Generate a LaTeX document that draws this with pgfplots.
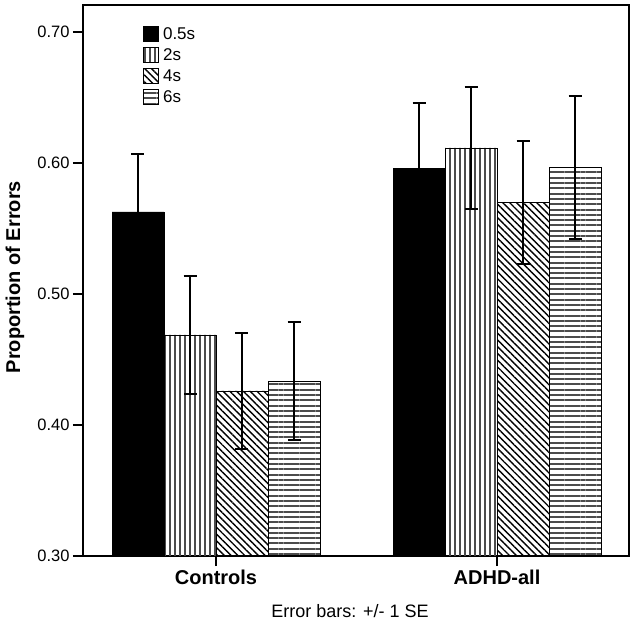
\documentclass[border=0pt]{standalone}
\usepackage{fontspec}
\setmainfont{Liberation Sans}
\usepackage{pgfplots}
\pgfplotsset{compat=1.18}
\usetikzlibrary{patterns.meta}

\begin{document}
\begin{tikzpicture}
\useasboundingbox (-83pt,-67pt) rectangle (553pt,556pt);
\begin{axis}[
  scale only axis, width=546pt, height=551pt,
  xmin=-0.4733, xmax=1.4697, ymin=0.3, ymax=0.7206,
  xtick={0,1}, xticklabels={Controls,ADHD-all},
  ytick={0.3,0.4,0.5,0.6,0.7}, yticklabels={0.30,0.40,0.50,0.60,0.70},
  tick pos=left, tick align=outside, major tick length=10pt,
  tick style={line width=1.5pt,black},
  axis line style={line width=2pt},
  xticklabel style={font=\fontsize{20}{24}\selectfont\bfseries},
  yticklabel style={font=\fontsize{16.5}{19}\selectfont},
  ylabel={\textbf{Proportion of Errors}},
  ylabel style={at={(axis description cs:-0.1245,0.506)}, anchor=center, font=\fontsize{20}{24}\selectfont},
  xlabel={Error bars: +/- 1 SE},
  xlabel style={at={(axis description cs:0.489,0)}, anchor=base, yshift=-61pt, font=\fontsize{18}{22}\selectfont},
  legend style={at={(axis description cs:0.11,0.962)}, anchor=north west, draw=none, fill=none,
     inner sep=0pt, row sep=5.2pt, font=\fontsize{17}{20}\selectfont, nodes={inner sep=1pt},
     /tikz/column 2/.style={column sep=0pt}},
  legend cell align=left,
  legend image code/.code={\draw[#1] (0pt,-7.5pt) rectangle (15pt,7.5pt);},
  error bars/error bar style={line width=2pt,black},
  error bars/error mark options={rotate=90, mark size=6.5pt, line width=2pt, black},
]
\addplot[ybar, bar width=0.185, bar shift=0pt, draw=black, line width=0.8pt, fill=black,
  error bars/.cd, y dir=both, y explicit]
  coordinates {(-0.2776,0.5626) +- (0,0.044) (0.7224,0.596) +- (0,0.050)};
\addlegendentry{\hspace{3pt}0.5s}
\addplot[ybar, bar width=0.185, bar shift=0pt, draw=black, line width=0.8pt,
  pattern={Lines[angle=90,distance=5pt,line width=1.8pt]}, pattern color=black!70,
  error bars/.cd, y dir=both, y explicit]
  coordinates {(-0.0925,0.4687) +- (0,0.0447) (0.9075,0.6115) +- (0,0.0465)};
\addlegendentry{\hspace{3pt}2s}
\addplot[ybar, bar width=0.185, bar shift=0pt, draw=black, line width=0.8pt,
  pattern={Lines[angle=-45,distance=4.8pt,line width=1.4pt]}, pattern color=black,
  error bars/.cd, y dir=both, y explicit]
  coordinates {(0.0925,0.426) +- (0,0.0445) (1.0925,0.570) +- (0,0.047)};
\addlegendentry{\hspace{3pt}4s}
\addplot[ybar, bar width=0.185, bar shift=0pt, draw=black, line width=0.8pt,
  pattern={Lines[angle=0,distance=5.3pt,line width=2pt]}, pattern color=black!70,
  error bars/.cd, y dir=both, y explicit]
  coordinates {(0.2776,0.4336) +- (0,0.045) (1.2776,0.5965) +- (0,0.0545)};
\addlegendentry{\hspace{3pt}6s}
\end{axis}
\end{tikzpicture}
\end{document}
